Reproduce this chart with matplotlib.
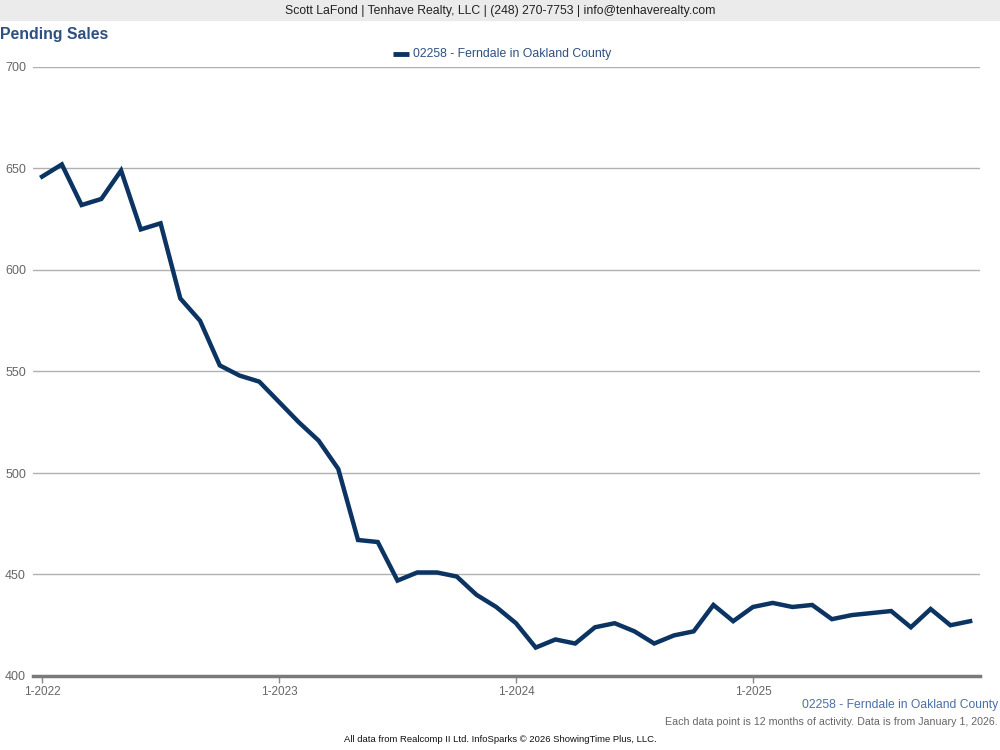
import numpy as np
import matplotlib.pyplot as plt

plt.rcParams['font.family'] = ['Liberation Sans', 'DejaVu Sans']

# donnees (ventes en attente, 12 mois glissants)
mois = ['1-2022', '2-2022', '3-2022', '4-2022', '5-2022', '6-2022', '7-2022', '8-2022', '9-2022', '10-2022', '11-2022', '12-2022',
        '1-2023', '2-2023', '3-2023', '4-2023', '5-2023', '6-2023', '7-2023', '8-2023', '9-2023', '10-2023', '11-2023', '12-2023',
        '1-2024', '2-2024', '3-2024', '4-2024', '5-2024', '6-2024', '7-2024', '8-2024', '9-2024', '10-2024', '11-2024', '12-2024',
        '1-2025', '2-2025', '3-2025', '4-2025', '5-2025', '6-2025', '7-2025', '8-2025', '9-2025', '10-2025', '11-2025', '12-2025']
ventes = [646, 652, 632, 635, 649, 620, 623, 586, 575, 553, 548, 545,
          535, 525, 516, 502, 467, 466, 447, 451, 451, 449, 440, 434,
          426, 414, 418, 416, 424, 426, 422, 416, 420, 422, 435, 427,
          434, 436, 434, 435, 428, 430, 431, 432, 424, 433, 425, 427]
serie = '02258 - Ferndale in Oakland County'
yticks = [400, 450, 500, 550, 600, 650, 700]
xticks_lab = ['1-2022', '1-2023', '1-2024', '1-2025']

navy = '#0c3463'

fig = plt.figure(figsize=(10, 7.5), dpi=100)

# bandeau du haut
fig.patches.append(plt.Rectangle((0, 1 - 20/750), 1, 20/750, transform=fig.transFigure,
                                 color='#ebebeb', zorder=0))
fig.text(0.5, 1 - 11/750, 'Scott LaFond | Tenhave Realty, LLC | (248) 270-7753 | info@tenhaverealty.com',
         ha='center', va='center', fontsize=8.8, color='#222222')
fig.text(0.0, 1 - 34/750, 'Pending Sales', ha='left', va='center', fontsize=11.4,
         fontweight='bold', color='#2d5080')

ax = fig.add_axes([33/1000, 1 - 676/750, (980-33)/1000, (676-67)/750])
x = np.arange(len(ventes))
ax.plot(x, ventes, color=navy, lw=3.2, solid_joinstyle='miter', zorder=3)

ax.set_ylim(400, 700)
ax.set_xlim(-0.46, 47.5)
ax.set_yticks(yticks)
ax.set_yticklabels([str(v) for v in yticks])
ax.set_xticks([mois.index(m) for m in xticks_lab])
ax.set_xticklabels(xticks_lab)
ax.grid(axis='y', color='#b0b0b0', lw=1)
ax.set_axisbelow(True)
for s in ['top', 'right', 'left']:
    ax.spines[s].set_visible(False)
ax.spines['bottom'].set_color('#7a7a7a')
ax.spines['bottom'].set_linewidth(2.5)
ax.tick_params(axis='y', length=0, pad=5, labelsize=9, labelcolor='#666666')
ax.tick_params(axis='x', length=5, width=1, color='#888888', pad=2, labelsize=8.5, labelcolor='#666666')

# legende
fig.lines.append(plt.Line2D([393/1000, 409/1000], [1 - 54/750, 1 - 54/750], transform=fig.transFigure,
                            color=navy, lw=3.5, solid_capstyle='butt'))
fig.text(413/1000, 1 - 54/750, serie, ha='left', va='center', fontsize=8.8, color='#2d5080')

# textes du bas
fig.text(998/1000, 1 - 705/750, serie, ha='right', va='center', fontsize=8.7, color='#4a70a8')
fig.text(998/1000, 1 - 722/750, 'Each data point is 12 months of activity. Data is from January 1, 2026.',
         ha='right', va='center', fontsize=7.7, color='#666666')
fig.text(0.5, 1 - 740/750, 'All data from Realcomp II Ltd. InfoSparks \u00a9 2026 ShowingTime Plus, LLC.',
         ha='center', va='center', fontsize=6.8, color='#111111')

fig.savefig('out.png', dpi=100)
